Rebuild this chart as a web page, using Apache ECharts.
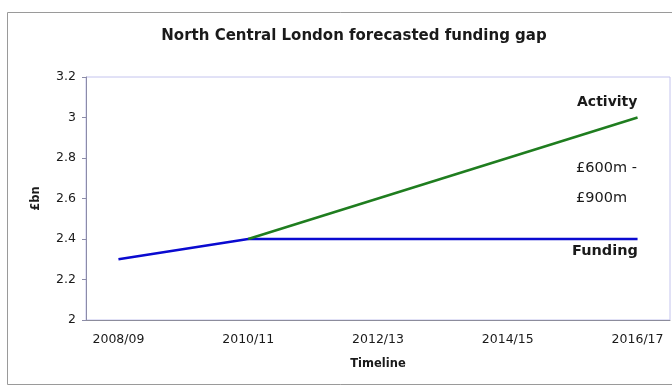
<!DOCTYPE html>
<html>
<head>
<meta charset="utf-8">
<script src="https://cdn.jsdelivr.net/npm/echarts@6/dist/echarts.min.js"></script>
<style>html,body{margin:0;padding:0;background:#fff}#c{width:672px;height:387px}</style>
</head>
<body>
<div id="c"></div>
<script>
const categories = ['2008/09','2009/10','2010/11','2011/12','2012/13','2013/14','2014/15','2015/16','2016/17'];
const funding = [2.3, null, 2.4, null, null, null, null, null, 2.4];
const activity = [null, null, 2.4, null, null, null, null, null, 3.0];
const yTicks = { min: 2, max: 3.2, interval: 0.2 };

const font = '"DejaVu Sans", sans-serif';
const chart = echarts.init(document.getElementById('c'));
chart.setOption({
  backgroundColor: '#fff',
  animation: false,
  title: {
    text: 'North Central London forecasted funding gap',
    left: 349, top: 24, textAlign: 'center',
    textStyle: { fontFamily: font, fontSize: 15, fontWeight: 'bold', color: '#1a1a1a' }
  },
  grid: { left: 86, right: 2, top: 77, bottom: 67, show: true, borderColor: '#c4c4ee', borderWidth: 1, backgroundColor: '#fff' },
  xAxis: {
    type: 'category', data: categories, boundaryGap: true,
    name: 'Timeline', nameLocation: 'middle', nameGap: 38,
    nameTextStyle: { fontFamily: font, fontSize: 11.5, fontWeight: 'bold', color: '#1a1a1a' },
    axisLine: { lineStyle: { color: '#8c8c9c', width: 1 } },
    axisTick: { interval: 1, length: 4, lineStyle: { color: '#8c8c9c' } },
    axisLabel: { interval: 1, fontFamily: font, fontSize: 12.5, color: '#1a1a1a', margin: 13 },
    splitLine: { show: false }
  },
  yAxis: {
    type: 'value', min: yTicks.min, max: yTicks.max, interval: yTicks.interval,
    name: '£bn', nameLocation: 'middle', nameGap: 44, nameRotate: 90,
    nameTextStyle: { fontFamily: font, fontSize: 11.5, fontWeight: 'bold', color: '#1a1a1a' },
    axisLine: { show: true, lineStyle: { color: '#8c8ca8', width: 1 } },
    axisTick: { show: true, length: 4, lineStyle: { color: '#8c8ca8' } },
    axisLabel: { fontFamily: font, fontSize: 12.5, color: '#1a1a1a', margin: 10 },
    splitLine: { show: false }
  },
  series: [
    { name: 'Funding', type: 'line', data: funding, connectNulls: true, symbol: 'none',
      lineStyle: { color: '#0a0ad0', width: 2.5 }, z: 2 },
    { name: 'Activity', type: 'line', data: activity, connectNulls: true, symbol: 'none',
      lineStyle: { color: '#1f7d1f', width: 2.5 }, z: 3 }
  ],
  graphic: [
    { type: 'rect', shape: { x: 7.5, y: 12.5, width: 700, height: 372 }, style: { fill: 'none', stroke: '#9a9a9a', lineWidth: 1 }, silent: true },
    { type: 'text', left: 577, top: 95, style: { text: 'Activity', font: 'bold 14px ' + font, fill: '#1a1a1a' } },
    { type: 'text', left: 576, top: 161, style: { text: '£600m -', font: '14.5px ' + font, fill: '#1a1a1a' } },
    { type: 'text', left: 576, top: 191, style: { text: '£900m', font: '14.5px ' + font, fill: '#1a1a1a' } },
    { type: 'text', left: 572, top: 244, style: { text: 'Funding', font: 'bold 14.5px ' + font, fill: '#1a1a1a' } }
  ]
});
</script>
</body>
</html>
